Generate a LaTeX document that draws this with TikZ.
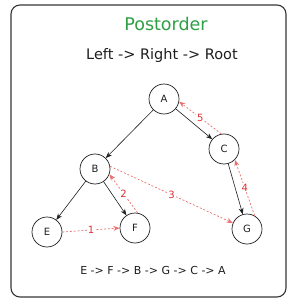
\documentclass[tikz,border=0pt]{standalone}
\usepackage{fontspec}
\setmainfont{DejaVu Sans}
\usepackage{xcolor}
\usepackage{tikz}
\usetikzlibrary{arrows.meta}
\definecolor{ink}{HTML}{1E1E1E}
\definecolor{leafgreen}{HTML}{2F9E44}
\definecolor{trace}{HTML}{E03131}

\begin{document}
\begin{tikzpicture}[
    x=1pt, y=-1pt,
    vertex/.style={circle, draw=ink, line width=0.7pt, minimum size=30pt,
                   inner sep=0pt, text=ink, font=\fontsize{10}{12}\selectfont},
    edge/.style={-{Stealth[length=2.2mm,width=1.7mm]}, draw=ink,
                 line width=0.6pt},
    visit/.style={-{Stealth[length=2.2mm,width=1.7mm]}, draw=trace!70,
                  dash pattern=on 2pt off 1.8pt, line width=0.7pt},
    order/.style={text=trace, fill=white, inner sep=1pt,
                  font=\fontsize{10}{12}\selectfont}]
  \useasboundingbox (0,0) rectangle (296,304);
  \draw[ink!90, line width=1.1pt, rounded corners=9pt] (11,5) rectangle (286,297);

  \node[text=leafgreen, font=\fontsize{17.5}{21}\selectfont] (title) at (166,24) {Postorder};
  \node[text=ink, font=\fontsize{14.5}{17}\selectfont] (rule) at (162,56) {Left -> Right -> Root};

  \node[vertex] (A) at (164,99) {A};
  \node[vertex] (C) at (224,149) {C};
  \node[vertex] (B) at (95,169) {B};
  \node[vertex] (E) at (47,232) {E};
  \node[vertex] (F) at (135,228) {F};
  \node[vertex] (G) at (247,229) {G};

  % tree edges
  \draw[edge] (A) -- (B);
  \draw[edge] (A) -- (C);
  \draw[edge] (B) -- (E);
  \draw[edge] (B) -- (F);
  \draw[edge] (C) -- (G);

  % visiting order
  \draw[visit] (E.east) -- node[order] {1} (F.west);
  \draw[visit] (F.80) -- node[order] {2} (B.-20);
  \draw[visit] (B.10) -- node[order] {3} (G.157);
  \draw[visit] (G.60) -- node[order] {4} (C.-45);
  \draw[visit] (C.100) -- node[order] {5} (A.-10);

  \node[text=ink, font=\fontsize{11}{13}\selectfont] (seq) at (153,270) {E -> F -> B -> G -> C -> A};
\end{tikzpicture}
\end{document}
